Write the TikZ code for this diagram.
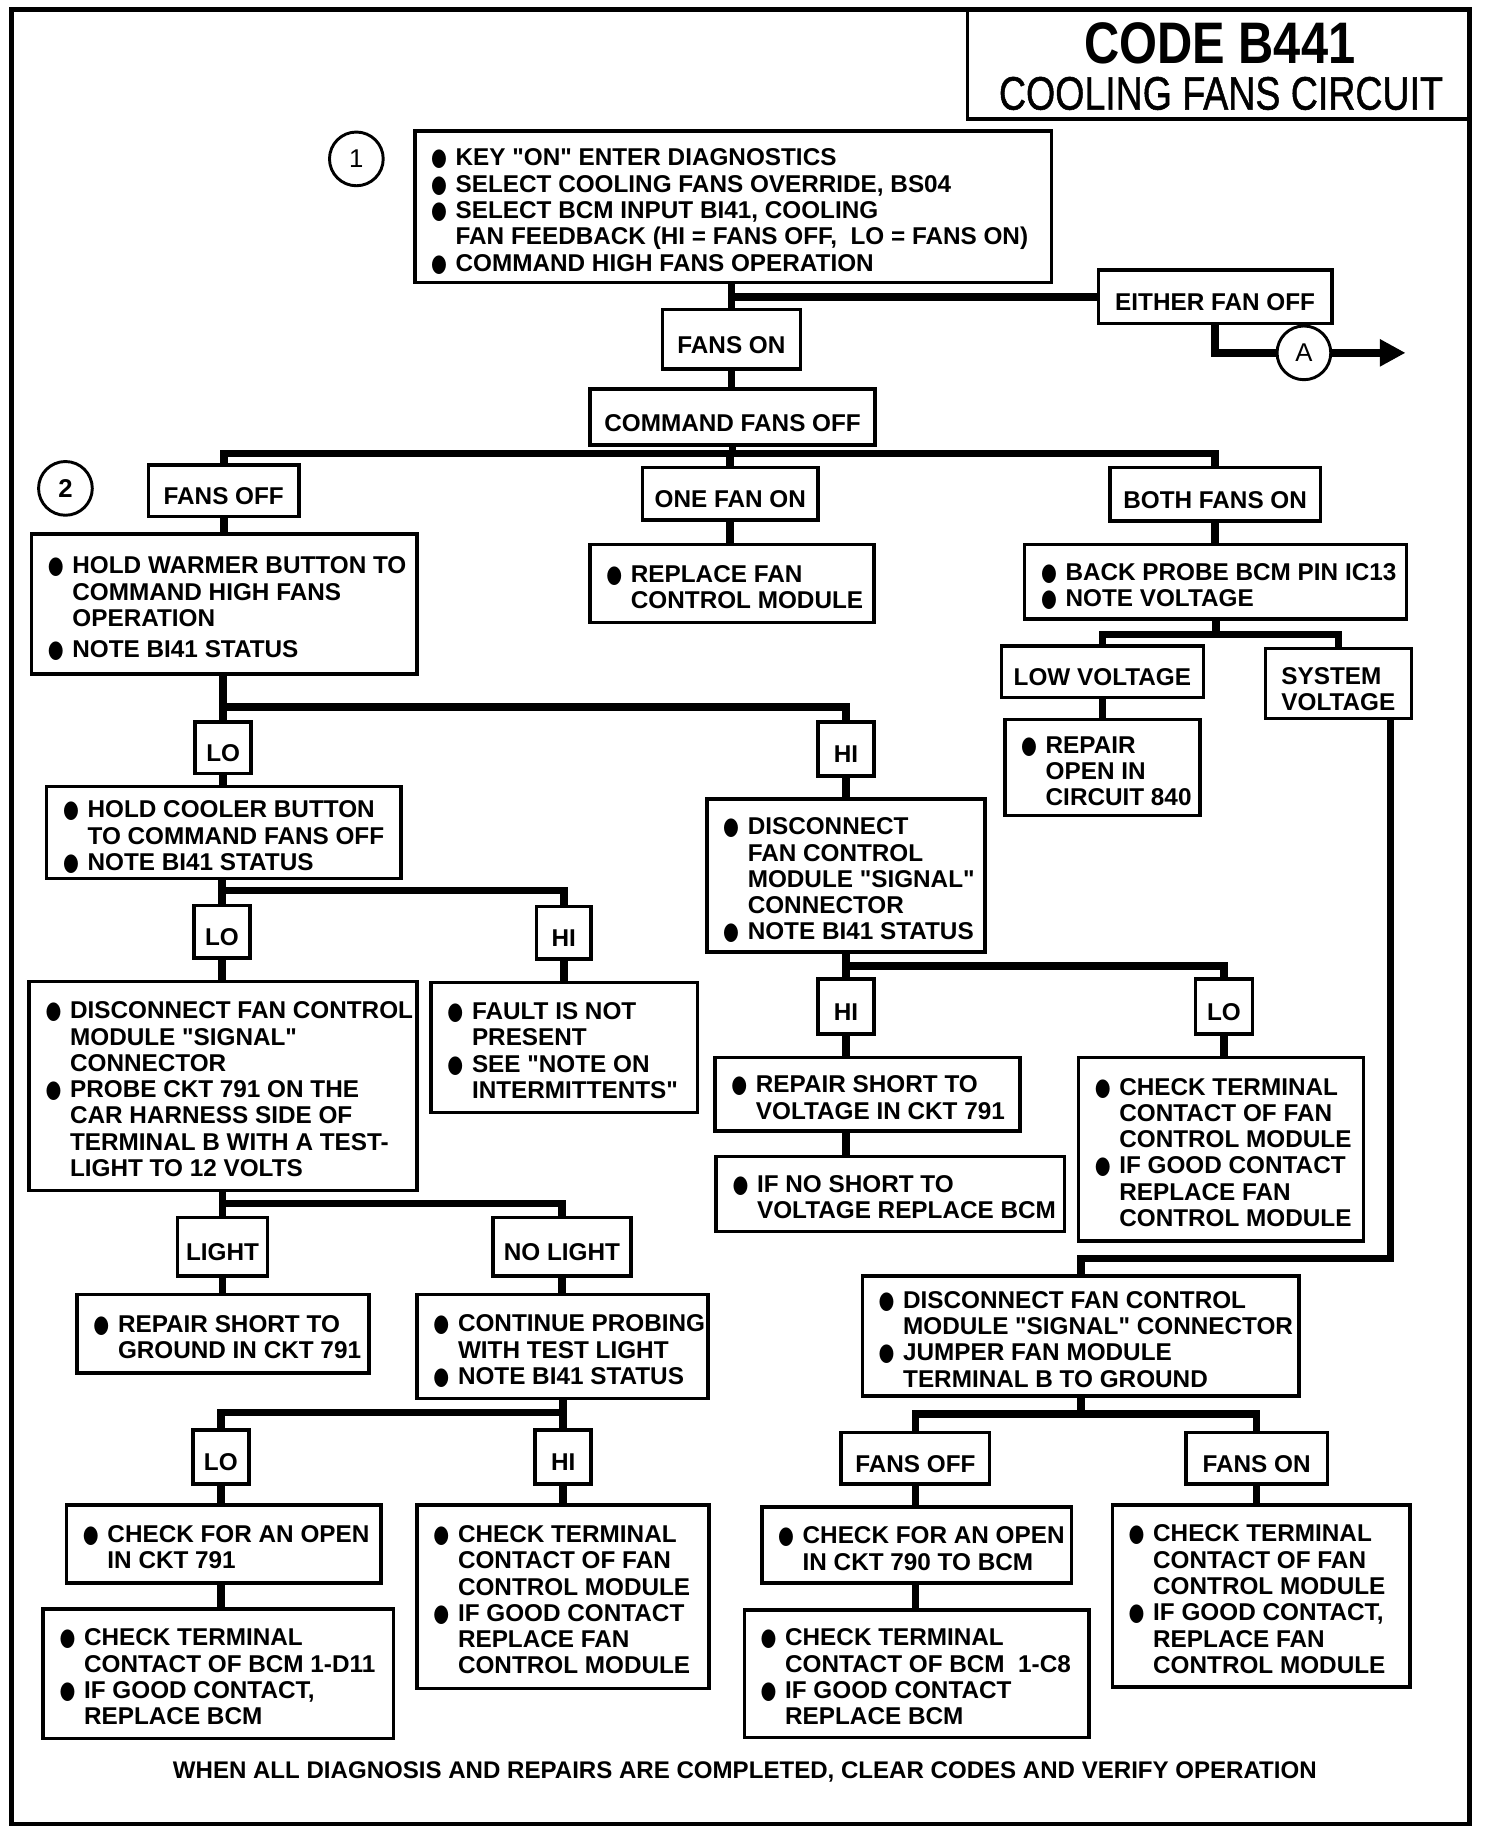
\documentclass[tikz,border=0pt]{standalone}
\usepackage{fontspec}
\setmainfont{Liberation Sans}
\newfontfamily\dejavu{DejaVu Sans}
\newfontfamily\semib{Liberation Sans}[FakeBold=1.2]
\usetikzlibrary{arrows.meta}
\newcommand\q{\textquotedbl}
\newcommand\bl[1]{\mbox{\makebox[21pt][l]{\scalebox{0.75}[1.0]{\dejavu ●}}#1}}
\newcommand\il[1]{\mbox{\hspace*{21pt}#1}}
\newcommand\bx[6]{%
 \pgfmathsetmacro\bw{#4-#2}\pgfmathsetmacro\bh{#5-#3}%
 \pgfmathsetmacro\cx{(#2+#4)/2}\pgfmathsetmacro\cy{(#3+#5)/2}%
 \pgfmathsetmacro\tw{#4-#2-28}%
 \node[box, minimum width=\bw pt, minimum height=\bh pt] (#1) at (\cx,\cy)
   {\raisebox{-5.5pt}[\height][\depth]{\makebox[\tw pt][l]{\begin{tabular}{@{}l@{}}#6\end{tabular}}}};}
\newcommand\lb[6]{%
 \pgfmathsetmacro\bw{#4-#2}\pgfmathsetmacro\bh{#5-#3}%
 \pgfmathsetmacro\cx{(#2+#4)/2}\pgfmathsetmacro\cy{(#3+#5)/2}%
 \node[box, minimum width=\bw pt, minimum height=\bh pt] (#1) at (\cx,\cy)
   {\raisebox{-7.5pt}[\height][\depth]{\begin{tabular}{@{}l@{}}#6\end{tabular}}};}
\tikzset{
 box/.style={draw, line width=3pt, fill=white, inner sep=0pt, font=\bfseries\fontsize{20.8}{22.5}\selectfont},
 conn/.style={line width=6.5pt, line join=miter},
 circ/.style={draw, circle, line width=2.5pt, fill=white, minimum size=46pt, inner sep=0pt, font=\fontsize{22}{22}\selectfont},
}
\begin{document}
\begin{tikzpicture}[x=1pt,y=-1pt]
\useasboundingbox (0,0) rectangle (1274,1568);
\draw[line width=4pt] (10,8) rectangle (1258,1561);
% title
\node[draw, line width=3pt, minimum width=430pt, minimum height=94pt, inner sep=0pt] (title) at (1043,55) {};
\node[inner sep=0pt] (code) at (1044,37.5) {\resizebox{232pt}{35pt}{\bfseries CODE B441}};
\node[inner sep=0pt] (sub) at (1045,80) {\resizebox{380pt}{28pt}{\semib COOLING FANS CIRCUIT}};
% circles
\node[circ] (c1) at (305,136) {1};
\node[circ, font=\bfseries\fontsize{22}{22}\selectfont] (c2) at (56,418) {2};
\node[circ] (cA) at (1116,302) {A};
\coordinate (aend) at (1203,302);
% boxes
\bx{b1}{355}{112}{900}{242}{\bl{KEY \q ON\q\ ENTER DIAGNOSTICS}\\\bl{SELECT COOLING FANS OVERRIDE, BS04}\\\bl{SELECT BCM INPUT BI41, COOLING}\\\il{FAN FEEDBACK (HI = FANS OFF,\ \ LO = FANS ON)}\\\bl{COMMAND HIGH FANS OPERATION}}
\lb{eitheroff}{940}{231}{1140}{277}{EITHER FAN OFF}
\lb{fanson}{567}{265}{685}{316}{FANS ON}
\lb{cmdoff}{505}{333}{749}{381}{COMMAND FANS OFF}
\lb{fansoff}{127}{398}{256}{442}{FANS OFF}
\lb{oneon}{550}{400}{700}{445}{ONE FAN ON}
\lb{bothon}{950}{400}{1130}{446}{BOTH FANS ON}
\bx{warm}{27}{457}{357}{577}{\bl{HOLD WARMER BUTTON TO}\\\il{COMMAND HIGH FANS}\\\il{OPERATION}\\[4pt]\bl{NOTE BI41 STATUS}}
\bx{repfan}{505}{466}{748}{533}{\bl{REPLACE FAN}\\\il{CONTROL MODULE}}
\bx{probe}{877}{466}{1204}{530}{\bl{BACK PROBE BCM PIN IC13}\\\bl{NOTE VOLTAGE}}
\lb{lowv}{857}{553}{1030}{597}{LOW VOLTAGE}
\lb{sysv}{1083}{555}{1208}{615}{SYSTEM\\VOLTAGE}
\bx{rep840}{860}{616}{1027}{698}{\bl{REPAIR}\\\il{OPEN IN}\\\il{CIRCUIT 840}}
\lb{lo1}{167}{618}{215}{662}{LO}
\lb{hi1}{700}{618}{748}{664}{HI}
\bx{cool}{40}{673}{343}{752}{\bl{HOLD COOLER BUTTON}\\\il{TO COMMAND FANS OFF}\\\bl{NOTE BI41 STATUS}}
\lb{lo2}{166}{775}{214}{820}{LO}
\lb{hi2}{459}{776}{506}{821}{HI}
\bx{disc1}{25}{840}{357}{1019}{\bl{DISCONNECT FAN CONTROL}\\\il{MODULE \q SIGNAL\q}\\\il{CONNECTOR}\\\bl{PROBE CKT 791 ON THE}\\\il{CAR HARNESS SIDE OF}\\\il{TERMINAL B WITH A TEST-}\\\il{LIGHT TO 12 VOLTS}}
\bx{fault}{369}{841}{597}{952}{\bl{FAULT IS NOT}\\\il{PRESENT}\\\bl{SEE \q NOTE ON}\\\il{INTERMITTENTS\q}}
\lb{light}{152}{1042}{229}{1092}{LIGHT}
\lb{nolight}{422}{1042}{540}{1092}{NO LIGHT}
\bx{gnd}{66}{1108}{316}{1175}{\bl{REPAIR SHORT TO}\\\il{GROUND IN CKT 791}}
\bx{cont}{357}{1108}{606}{1197}{\bl{CONTINUE PROBING}\\\il{WITH TEST LIGHT}\\\bl{NOTE BI41 STATUS}}
\lb{lo3}{165}{1224}{213}{1270}{LO}
\lb{hi3}{458}{1224}{506}{1270}{HI}
\bx{open791}{57}{1288}{326}{1355}{\bl{CHECK FOR AN OPEN}\\\il{IN CKT 791}}
\bx{d11}{37}{1377}{337}{1488}{\bl{CHECK TERMINAL}\\\il{CONTACT OF BCM 1-D11}\\\bl{IF GOOD CONTACT,}\\\il{REPLACE BCM}}
\bx{term3}{357}{1288}{607}{1445}{\bl{CHECK TERMINAL}\\\il{CONTACT OF FAN}\\\il{CONTROL MODULE}\\\bl{IF GOOD CONTACT}\\\il{REPLACE FAN}\\\il{CONTROL MODULE}}
\bx{disc3}{605}{684}{843}{815}{\bl{DISCONNECT}\\\il{FAN CONTROL}\\\il{MODULE \q SIGNAL\q}\\\il{CONNECTOR}\\\bl{NOTE BI41 STATUS}}
\lb{hi4}{700}{838}{748}{885}{HI}
\lb{lo4}{1023}{838}{1072}{885}{LO}
\bx{volt}{612}{905}{873}{968}{\bl{REPAIR SHORT TO}\\\il{VOLTAGE IN CKT 791}}
\bx{noshort}{613}{990}{911}{1054}{\bl{IF NO SHORT TO}\\\il{VOLTAGE REPLACE BCM}}
\bx{term4}{923}{905}{1167}{1062}{\bl{CHECK TERMINAL}\\\il{CONTACT OF FAN}\\\il{CONTROL MODULE}\\\bl{IF GOOD CONTACT}\\\il{REPLACE FAN}\\\il{CONTROL MODULE}}
\bx{disc2}{738}{1092}{1112}{1195}{\bl{DISCONNECT FAN CONTROL}\\\il{MODULE \q SIGNAL\q\ CONNECTOR}\\\bl{JUMPER FAN MODULE}\\\il{TERMINAL B TO GROUND}}
\lb{fansoff2}{720}{1226}{847}{1270}{FANS OFF}
\lb{fanson2}{1015}{1226}{1136}{1270}{FANS ON}
\bx{open790}{652}{1290}{917}{1355}{\bl{CHECK FOR AN OPEN}\\\il{IN CKT 790 TO BCM}}
\bx{c8}{637}{1378}{932}{1487}{\bl{CHECK TERMINAL}\\\il{CONTACT OF BCM\ \ 1-C8}\\\bl{IF GOOD CONTACT}\\\il{REPLACE BCM}}
\bx{term5}{952}{1288}{1207}{1444}{\bl{CHECK TERMINAL}\\\il{CONTACT OF FAN}\\\il{CONTROL MODULE}\\\bl{IF GOOD CONTACT,}\\\il{REPLACE FAN}\\\il{CONTROL MODULE}}
\node[inner sep=0pt] (foot) at (637.5,1517) {\resizebox{979pt}{!}{\bfseries WHEN ALL DIAGNOSIS AND REPAIRS ARE COMPLETED, CLEAR CODES AND VERIFY OPERATION}};
% bus coordinates
\coordinate (bus1) at (627,388);
\coordinate (bus2) at (1043,543);
\coordinate (bus3) at (191,605);
\coordinate (bus4) at (190,762);
\coordinate (bus5) at (190,1030);
\coordinate (bus6) at (481,1209);
\coordinate (bus7) at (724,827);
\coordinate (bus8) at (925,1210);
\coordinate (s1) at (1190,1077);
% connectors
\draw[conn] (b1.south -| fanson.north) -- (fanson.north);
\draw[conn] (fanson.north |- eitheroff.west) -- (eitheroff.west);
\draw[conn] (eitheroff.south) |- (cA.west);
\draw[conn, -{Triangle[length=22pt,width=22pt]}] (cA.east) -- (aend);
\draw[conn] (fanson.south) -- (fanson.south |- cmdoff.north);
\draw[conn] (cmdoff.south) -- (cmdoff.south |- bus1);
\draw[conn] (fansoff.north) |- (bus1) -| (bothon.north);
\draw[conn] (oneon.north) -- (oneon.north |- bus1);
\draw[conn] (fansoff.south) -- (fansoff.south |- warm.north);
\draw[conn] (oneon.south) -- (oneon.south |- repfan.north);
\draw[conn] (bothon.south) -- (bothon.south |- probe.north);
\draw[conn] (probe.south) -- (probe.south |- bus2);
\draw[conn] (lowv.north) |- (bus2) -| (sysv.north);
\draw[conn] (lowv.south) -- (lowv.south |- rep840.north);
\draw[conn] (s1 |- sysv.south) -- (s1) -| (disc2.north);
\draw[conn] (warm.south -| lo1.north) -- (lo1.north);
\draw[conn] (lo1.north |- bus3) -| (hi1.north);
\draw[conn] (lo1.south) -- (lo1.south |- cool.north);
\draw[conn] (cool.south -| lo2.north) -- (lo2.north);
\draw[conn] (lo2.north |- bus4) -| (hi2.north);
\draw[conn] (lo2.south) -- (lo2.south |- disc1.north);
\draw[conn] (hi2.south) -- (hi2.south |- fault.north);
\draw[conn] (disc1.south -| light.north) -- (light.north);
\draw[conn] (light.north |- bus5) -| (nolight.north);
\draw[conn] (light.south) -- (light.south |- gnd.north);
\draw[conn] (nolight.south) -- (nolight.south |- cont.north);
\draw[conn] (cont.south -| hi3.north) -- (hi3.north);
\draw[conn] (hi3.north |- bus6) -| (lo3.north);
\draw[conn] (lo3.south) -- (lo3.south |- open791.north);
\draw[conn] (open791.south -| lo3.south) -- (lo3.south |- d11.north);
\draw[conn] (hi3.south) -- (hi3.south |- term3.north);
\draw[conn] (hi1.south) -- (hi1.south |- disc3.north);
\draw[conn] (disc3.south -| hi4.north) -- (hi4.north);
\draw[conn] (hi4.north |- bus7) -| (lo4.north);
\draw[conn] (hi4.south) -- (hi4.south |- volt.north);
\draw[conn] (volt.south -| hi4.south) -- (hi4.south |- noshort.north);
\draw[conn] (lo4.south) -- (lo4.south |- term4.north);
\draw[conn] (disc2.south) -- (disc2.south |- bus8);
\draw[conn] (fansoff2.north) |- (bus8) -| (fanson2.north);
\draw[conn] (fansoff2.south) -- (fansoff2.south |- open790.north);
\draw[conn] (open790.south -| fansoff2.south) -- (fansoff2.south |- c8.north);
\draw[conn] (fanson2.south) -- (fanson2.south |- term5.north);
\end{tikzpicture}
\end{document}
